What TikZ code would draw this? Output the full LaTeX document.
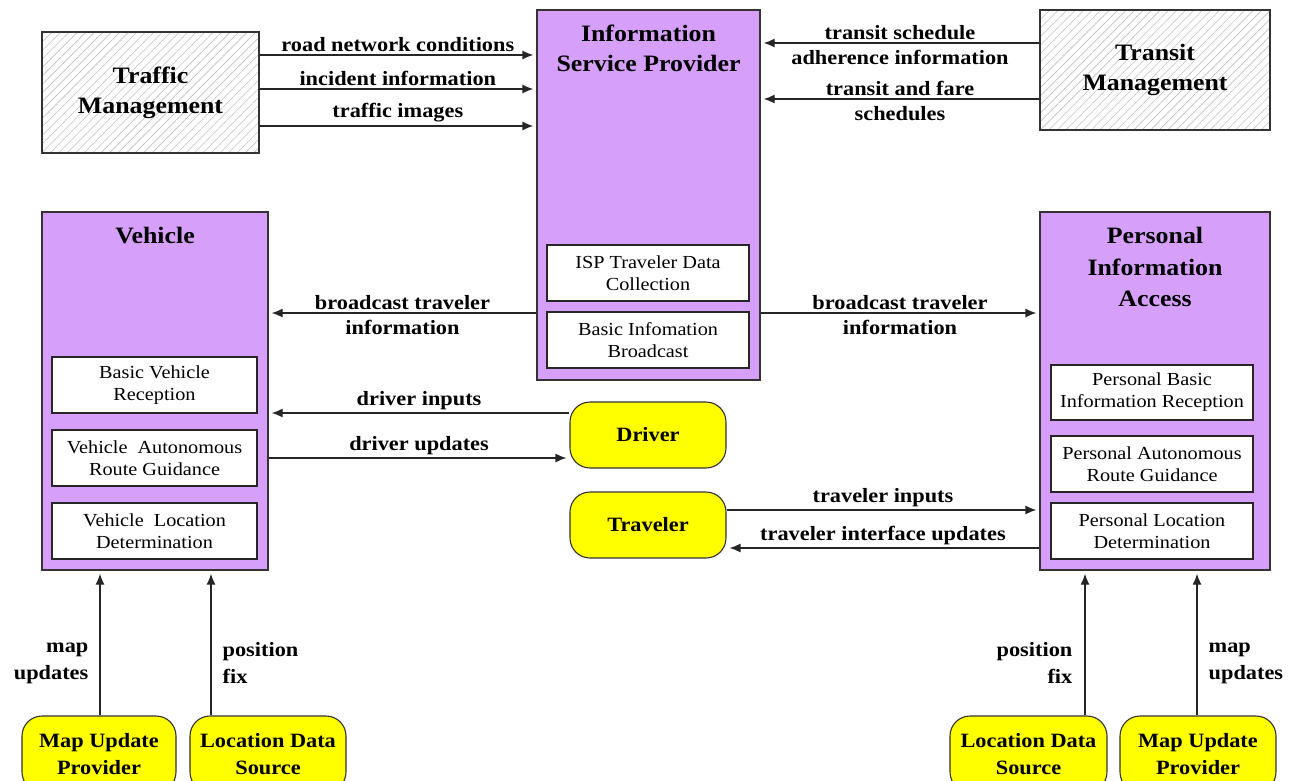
\documentclass[tikz,border=0pt]{standalone}
\usepackage{fontspec}
\setmainfont{Liberation Serif}[FakeStretch=1.1]
\usetikzlibrary{arrows.meta,patterns.meta,calc}
\definecolor{ppl}{HTML}{D6A0FA}
\definecolor{ylw}{HTML}{FFFF00}
\newcommand\ttlfont{\fontsize{23.5}{30}\selectfont\bfseries}
\newcommand\lblfont{\fontsize{20.3}{27}\selectfont\bfseries}
\newcommand\fncfont{\fontsize{18.4}{22}\selectfont}
\begin{document}
\begin{tikzpicture}[x=1pt,y=-1pt,
  term/.style={draw=black!80, line width=1.3pt,
    pattern={Lines[angle=45,distance=6pt,line width=0.6pt]}, pattern color=black!25,
    font=\ttlfont, align=center, inner sep=0pt},
  subsys/.style={draw=black!80, line width=1.3pt, fill=ppl, inner sep=0pt},
  ttl/.style={font=\ttlfont, align=center, inner sep=0pt},
  func/.style={draw=black!85, line width=1.1pt, fill=white, font=\fncfont, align=center, inner sep=0pt},
  extn/.style={draw=black!80, line width=1.1pt, fill=ylw, rounded corners=20pt, font=\lblfont, align=center, inner sep=0pt},
  lbl/.style={font=\lblfont, align=center, inner sep=3pt},
  lblb/.style={font=\lblfont, align=center, inner sep=3pt, yshift=-4pt},
  arr/.style={line width=1.3pt, draw=black!85, shorten >=3pt, -{Latex[length=11pt,width=9pt]}}]
\useasboundingbox (0,0) rectangle (1297,780);
\fill[white] (0,0) rectangle (1297,780);

% terminators
\node[term, minimum width=217pt, minimum height=121pt] (tm) at (150.5,92.5) {Traffic\\Management};
\node[term, minimum width=230pt, minimum height=120pt] (trm) at (1155,70) {Transit\\Management};

% subsystems
\node[subsys, minimum width=223pt, minimum height=370pt] (isp) at (648.5,195) {};
\node[ttl] (ispt) at (648.5,48) {Information\\Service Provider};
\node[func, minimum width=202pt, minimum height=56pt] (isp1) at (648,273) {ISP Traveler Data\\Collection};
\node[func, minimum width=202pt, minimum height=56pt] (isp2) at (648,340) {Basic Infomation\\Broadcast};

\node[subsys, minimum width=226pt, minimum height=358pt] (veh) at (155,391) {};
\node[ttl] (veht) at (155,236) {Vehicle};
\node[func, minimum width=205pt, minimum height=56pt] (veh1) at (154.5,385) {Basic Vehicle\\Reception};
\node[func, minimum width=205pt, minimum height=56pt] (veh2) at (154.5,458) {Vehicle\ \ Autonomous\\Route Guidance};
\node[func, minimum width=205pt, minimum height=56pt] (veh3) at (154.5,531) {Vehicle\ \ Location\\Determination};

\node[subsys, minimum width=230pt, minimum height=358pt] (pia) at (1155,391) {};
\node[ttl, font=\ttlfont\linespread{1.05}\selectfont] (piat) at (1155,267) {Personal\\Information\\Access};
\node[func, minimum width=202pt, minimum height=55pt] (pia1) at (1152,392.5) {Personal Basic\\Information Reception};
\node[func, minimum width=202pt, minimum height=56pt] (pia2) at (1152,464) {Personal Autonomous\\Route Guidance};
\node[func, minimum width=202pt, minimum height=56pt] (pia3) at (1152,531) {Personal Location\\Determination};

% externals
\node[extn, minimum width=156pt, minimum height=66pt] (drv) at (648,435) {Driver};
\node[extn, minimum width=156pt, minimum height=66pt] (trv) at (648,525) {Traveler};
\node[extn, minimum width=154pt, minimum height=76pt] (mupl) at (99,754) {Map Update\\Provider};
\node[extn, minimum width=156pt, minimum height=76pt] (ldsl) at (268,754) {Location Data\\Source};
\node[extn, minimum width=157pt, minimum height=76pt] (ldsr) at (1028.5,754) {Location Data\\Source};
\node[extn, minimum width=156pt, minimum height=76pt] (mupr) at (1198,754) {Map Update\\Provider};

% flows from traffic management
\draw[arr] (tm.east |- 0,55) -- node[lbl,above]{road network conditions} (isp.west |- 0,55);
\draw[arr] (tm.east |- 0,89) -- node[lbl,above]{incident information} (isp.west |- 0,89);
\draw[arr] (tm.east |- 0,126) -- node[lbl,above]{traffic images} (isp.west |- 0,126);

% flows from transit management
\draw[arr] (trm.west |- 0,43) -- node[lbl,above]{transit schedule} node[lblb,below]{adherence information} (isp.east |- 0,43);
\draw[arr] (trm.west |- 0,99) -- node[lbl,above]{transit and fare} node[lblb,below]{schedules} (isp.east |- 0,99);

% broadcast
\draw[arr] (isp.west |- 0,313) -- node[lbl,above]{broadcast traveler} node[lblb,below]{information} (veh.east |- 0,313);
\draw[arr] (isp.east |- 0,313) -- node[lbl,above]{broadcast traveler} node[lblb,below]{information} (pia.west |- 0,313);

% driver
\draw[arr] (drv.west |- 0,413) -- node[lbl,above]{driver inputs} (veh.east |- 0,413);
\draw[arr] (veh.east |- 0,458) -- node[lbl,above]{driver updates} (drv.west |- 0,458);

% traveler
\draw[arr] (trv.east |- 0,510) -- node[lbl,above]{traveler inputs} (pia.west |- 0,510);
\draw[arr] (pia.west |- 0,548) -- node[lbl,above]{traveler interface updates} (trv.east |- 0,548);

% bottom flows
\draw[arr] (100,0 |- mupl.north) -- node[lbl,left,pos=0.36,align=right,xshift=-8pt]{map\\updates} (100,0 |- veh.south);
\draw[arr] (211,0 |- ldsl.north) -- node[lbl,right,pos=0.36,align=left,xshift=8pt]{position\\fix} (211,0 |- veh.south);
\draw[arr] (1085,0 |- ldsr.north) -- node[lbl,left,pos=0.36,align=right,xshift=-9pt]{position\\fix} (1085,0 |- pia.south);
\draw[arr] (1197,0 |- mupr.north) -- node[lbl,right,pos=0.36,align=left,xshift=8pt]{map\\updates} (1197,0 |- pia.south);
\end{tikzpicture}
\end{document}
